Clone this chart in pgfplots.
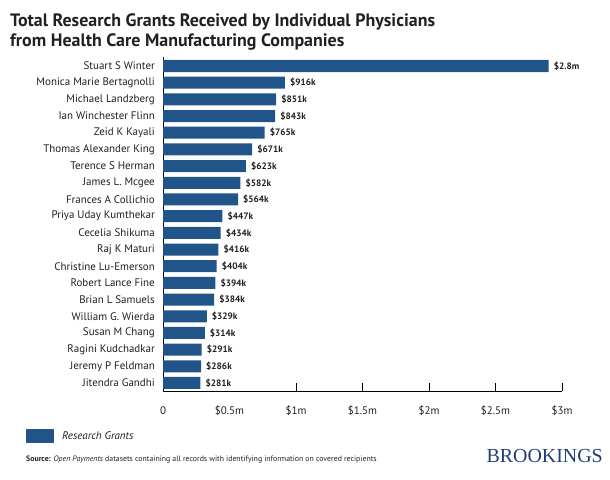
\documentclass[border=0pt]{standalone}
\usepackage{pgfplots}
\pgfplotsset{compat=1.18}
\usepackage{pgfplotstable}
\usepackage{fontspec}
\setmainfont{PT Sans}
\newfontfamily\seriflogo{Liberation Serif}
\definecolor{barblue}{HTML}{215589}
\definecolor{txt}{HTML}{231F20}
\definecolor{logoblue}{HTML}{1E3F73}

\pgfplotstableread{
y x lab
19 2.90 2.8m
18 0.916 916k
17 0.851 851k
16 0.843 843k
15 0.765 765k
14 0.671 671k
13 0.623 623k
12 0.582 582k
11 0.564 564k
10 0.447 447k
9 0.434 434k
8 0.416 416k
7 0.404 404k
6 0.394 394k
5 0.384 384k
4 0.329 329k
3 0.314 314k
2 0.291 291k
1 0.286 286k
0 0.281 281k
}\grants

\begin{document}
\begin{tikzpicture}
\path[use as bounding box] (0bp,0bp) rectangle (610bp,480bp);
\node[anchor=base west, font=\fontsize{18}{18}\selectfont\bfseries, text=txt, inner sep=0] at (10bp,453bp) {Total Research Grants Received by Individual Physicians};
\node[anchor=base west, font=\fontsize{18}{18}\selectfont\bfseries, text=txt, inner sep=0] at (10bp,433bp) {from Health Care Manufacturing Companies};
\begin{axis}[
  at={(163bp,89bp)}, anchor=south west,
  width=399bp, height=334bp, scale only axis,
  xmin=0, xmax=3, ymin=-0.48, ymax=19.54,
  xbar, bar width=0.72, bar shift=0,
  axis x line*=bottom, axis y line*=left,
  axis line style={black, line width=0.8pt},
  xtick={0,0.5,1,1.5,2,2.5,3},
  xticklabels={0,\$0.5m,\$1m,\$1.5m,\$2m,\$2.5m,\$3m},
  major tick length=0pt,
  extra x ticks={1,1.5,2,2.5,3},
  extra x tick labels={},
  extra x tick style={major tick length=8bp, tick align=inside, tick style={black, line width=0.8pt}},
  ytick={0,...,19},
  yticklabels={Jitendra Gandhi,Jeremy P Feldman,Ragini Kudchadkar,Susan M Chang,William G. Wierda,Brian L Samuels,Robert Lance Fine,Christine Lu-Emerson,Raj K Maturi,Cecelia Shikuma,Priya Uday Kumthekar,Frances A Collichio,James L. Mcgee,Terence S Herman,Thomas Alexander King,Zeid K Kayali,Ian Winchester Flinn,Michael Landzberg,Monica Marie Bertagnolli,Stuart S Winter},
  yticklabel style={font=\fontsize{11}{11}\selectfont, text=txt, inner sep=0pt, anchor=east, xshift=-8bp},
  xticklabel style={font=\fontsize{11}{11}\selectfont, text=txt, inner sep=0pt, anchor=base, yshift=-23bp},
  point meta=explicit symbolic,
  nodes near coords={\$\pgfplotspointmeta},
  nodes near coords style={font=\fontsize{9.3}{9.3}\selectfont\bfseries, text=txt, anchor=west, inner sep=0pt, xshift=5bp},
  legend style={at={(-0.3434,-0.1347)}, anchor=west, draw=none, fill=none, inner sep=0pt,
    font=\fontsize{11}{11}\selectfont\itshape, text=txt},
  legend image code/.code={\fill[barblue] (0bp,-7bp) rectangle (28bp,7bp); \path (34bp,0bp);},
  clip=false,
]
\addplot[fill=barblue, draw=none] table[x=x, y=y, meta=lab] {\grants};
\addlegendentry{Research Grants}
\end{axis}
\node[anchor=west, font=\fontsize{7.85}{7.85}\selectfont, text=txt, inner sep=0] at (26bp,20bp) {\textbf{Source:} \textit{Open Payments} datasets containing all records with identifying information on covered recipients};
\node[anchor=east, font=\fontsize{20}{20}\seriflogo, text=logoblue, inner sep=0] at (603bp,24bp) {BROOKINGS};
\end{tikzpicture}
\end{document}
